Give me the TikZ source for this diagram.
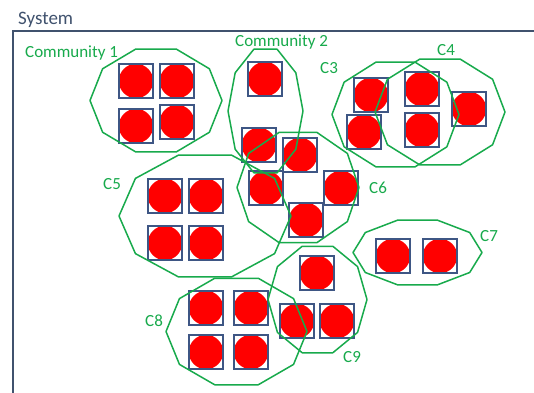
\documentclass[tikz,border=0pt]{standalone}
\usepackage{fontspec}
\setmainfont{Carlito}
\definecolor{sysFrame}{RGB}{64,82,110}
\definecolor{sysGreen}{RGB}{24,170,76}
\definecolor{sysBox}{RGB}{62,86,132}
% decagon round a community: centre x, centre y, x radius, y radius
\newcommand{\sysCommunity}[4]{\draw[community,shift={(#1,#2)}] (0:#3 and #4) \foreach \a in {36,72,...,324}{ -- (\a:#3 and #4)} -- cycle;}

\begin{document}
\begin{tikzpicture}[x=1pt,y=-1pt,
  member/.style={draw=sysBox, line width=1.2pt, minimum size=34pt, inner sep=0pt,
    path picture={\fill[red] (path picture bounding box.center) circle (17.2pt);}},
  community/.style={draw=sysGreen, line width=1.5pt, line join=round},
  commtext/.style={anchor=base west, inner sep=0pt, text=sysGreen, font=\fontsize{17}{20}\selectfont}]
\useasboundingbox (0,0) rectangle (534,392);
\fill[white] (0,0) rectangle (534,392);
% system frame
\draw[sysFrame, line width=1.5pt] (540,31) -- (13,31) -- (13,398);
\node[anchor=base west, inner sep=0pt, text=sysFrame, font=\fontsize{19}{22}\selectfont] (lblSystem) at (18,24) {System};
% members
\node[member] (m1a) at (136,81) {};
\node[member] (m1b) at (177,81) {};
\node[member] (m1c) at (136,126) {};
\node[member] (m1d) at (177,122) {};
\node[member] (m2a) at (265,79) {};
\node[member] (m2b) at (259,145) {};
\node[member] (m2c) at (300,155) {};
\node[member] (m3a) at (371,95) {};
\node[member] (m3b) at (364,132) {};
\node[member] (m4a) at (422,89) {};
\node[member] (m4b) at (422,130) {};
\node[member] (m4c) at (469,109) {};
\node[member] (m5a) at (165,196) {};
\node[member] (m5b) at (206,196) {};
\node[member] (m5c) at (165,243) {};
\node[member] (m5d) at (206,243) {};
\node[member] (m6a) at (266,188) {};
\node[member] (m6b) at (341,188) {};
\node[member] (m6c) at (306,220) {};
\node[member] (m7a) at (393,256) {};
\node[member] (m7b) at (440,256) {};
\node[member] (m8a) at (206,308) {};
\node[member] (m8b) at (251,308) {};
\node[member] (m8c) at (206,352) {};
\node[member] (m8d) at (251,352) {};
\node[member] (m9a) at (317,273) {};
\node[member] (m9b) at (297,321) {};
\node[member] (m9c) at (337,321) {};
% communities
\sysCommunity{156}{100.5}{66}{54}
\sysCommunity{265.5}{111}{37.5}{65}
\sysCommunity{395.5}{114.5}{63.5}{55}
\sysCommunity{440}{112}{65}{55.7}
\sysCommunity{205}{216}{86}{64}
\sysCommunity{298}{187.5}{61}{58}
\sysCommunity{417.5}{252.5}{64.5}{34}
\sysCommunity{236.5}{331.5}{70.5}{56}
\sysCommunity{317.5}{299.5}{49.5}{56}
% community labels
\node[commtext] (lblC1) at (25,57) {Community 1};
\node[commtext] (lblC2) at (235,46) {Community 2};
\node[commtext] (lblC3) at (320,73) {C3};
\node[commtext] (lblC4) at (437,55) {C4};
\node[commtext] (lblC5) at (103,189) {C5};
\node[commtext] (lblC6) at (369,193) {C6};
\node[commtext] (lblC7) at (480,241) {C7};
\node[commtext] (lblC8) at (145,326) {C8};
\node[commtext] (lblC9) at (343,362) {C9};
\end{tikzpicture}
\end{document}
